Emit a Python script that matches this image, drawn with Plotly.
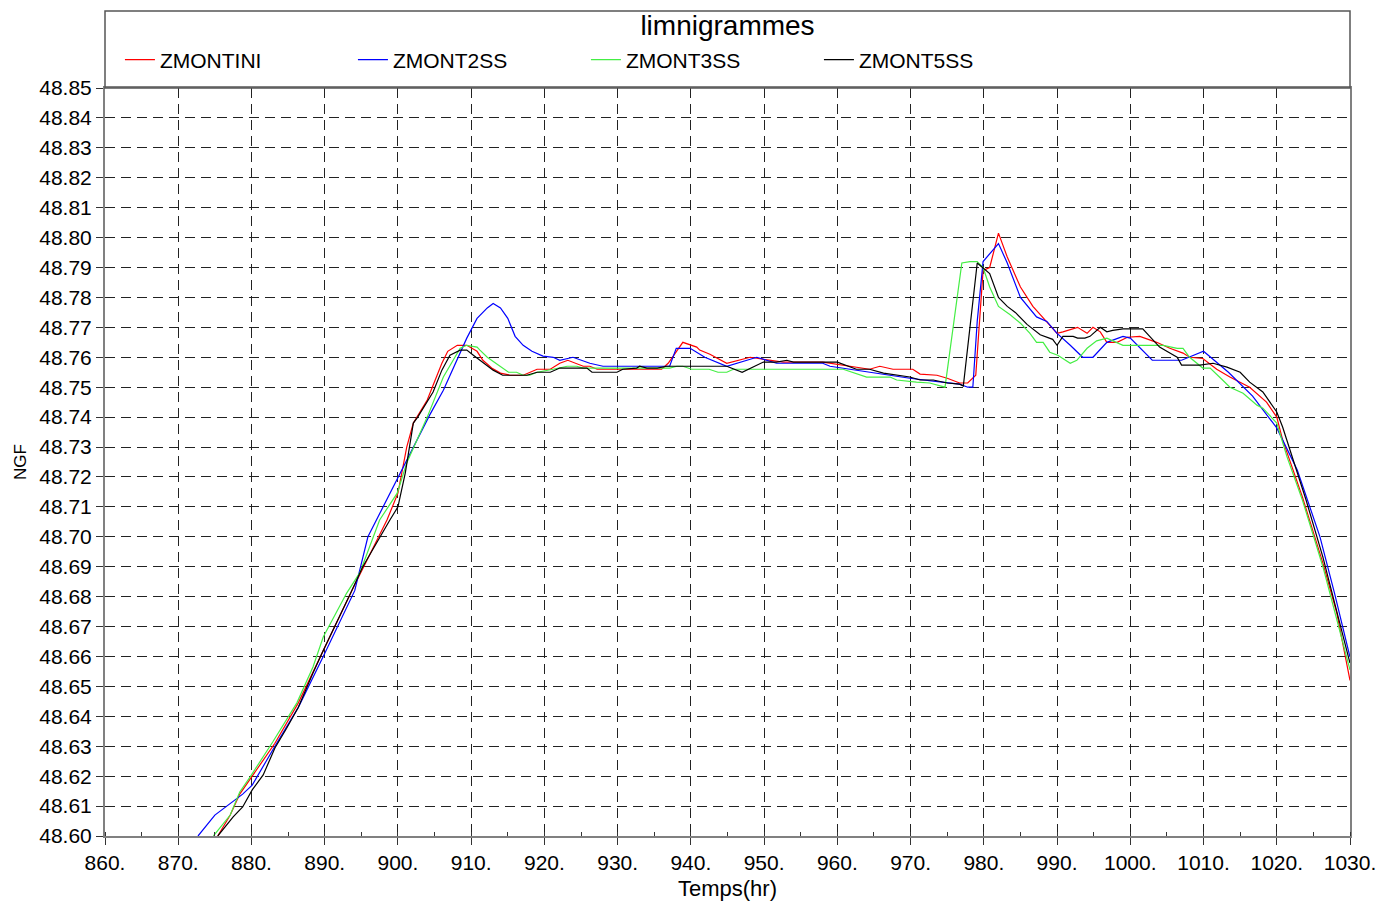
import plotly.graph_objects as go

# ---------------- data ----------------
red_t = [875.4, 877.1, 878.4, 880.1, 883.2, 886.4, 889.8, 893.7, 898.5, 900.0, 901.2, 902.1, 904.0, 906.0, 906.8,
         908.1, 909.4, 910.8, 911.6, 912.8, 914.0, 915.3, 917.1, 919.0, 920.8, 922.1, 923.2, 925.3, 926.2, 927.2,
         936.0, 936.9, 938.9, 940.8, 941.2, 942.6, 944.9, 948.1, 949.2, 952.6, 958.0, 961.7, 964.4, 965.8, 967.6,
         970.3, 971.3, 973.6, 975.0, 976.7, 977.8, 978.9, 979.9, 980.8, 982.0, 983.2, 985.0, 986.7, 988.3, 990.0,
         990.8, 992.8, 994.1, 994.9, 995.9, 996.8, 998.2, 999.6, 1001.3, 1003.6, 1005.4, 1007.2, 1008.1, 1009.9,
         1011.8, 1013.6, 1016.3, 1018.6, 1020.0, 1020.8, 1023.5, 1026.3, 1028.2, 1030.0]
red_v = [48.600, 48.607, 48.614, 48.620, 48.631, 48.6445, 48.662, 48.682, 48.7056, 48.7146, 48.730, 48.738, 48.7457,
         48.758, 48.762, 48.764, 48.764, 48.762, 48.759, 48.7564, 48.7547, 48.754, 48.754, 48.756, 48.756, 48.758,
         48.759, 48.757, 48.757, 48.756, 48.756, 48.758, 48.765, 48.7634, 48.7624, 48.761, 48.758, 48.760, 48.7596,
         48.7584, 48.7584, 48.757, 48.756, 48.757, 48.756, 48.756, 48.7544, 48.754, 48.753, 48.7514, 48.7514, 48.754,
         48.789, 48.790, 48.8015, 48.7935, 48.7835, 48.777, 48.7725, 48.768, 48.7685, 48.770, 48.768, 48.770, 48.7685,
         48.765, 48.765, 48.7667, 48.767, 48.765, 48.763, 48.7614, 48.760, 48.7596, 48.756, 48.7534, 48.750, 48.745,
         48.740, 48.7324, 48.7133, 48.6912, 48.6745, 48.652]

blue_t = [872.7, 875.0, 878.8, 880.1, 883.2, 886.4, 889.8, 894.1, 895.9, 900.3, 904.4, 906.2, 908.1, 909.4, 910.8,
          912.2, 913.0, 914.0, 915.0, 916.0, 917.1, 918.3, 919.8, 921.2, 922.1, 923.9, 926.2, 928.0, 937.1, 938.0,
          939.9, 941.9, 944.9, 949.0, 951.7, 958.0, 959.0, 961.7, 964.4, 966.8, 969.9, 973.1, 976.7, 977.8, 978.5,
          979.1, 979.9, 982.0, 983.2, 985.0, 987.2, 988.6, 990.0, 991.8, 993.5, 994.9, 996.8, 999.0, 1000.0, 1003.0,
          1007.0, 1010.0, 1013.4, 1016.7, 1020.0, 1022.8, 1025.9, 1027.9, 1030.0]
blue_v = [48.600, 48.607, 48.614, 48.617, 48.630, 48.643, 48.660, 48.682, 48.700, 48.721, 48.741, 48.749, 48.759,
          48.7664, 48.773, 48.7765, 48.778, 48.7765, 48.773, 48.767, 48.764, 48.762, 48.7604, 48.760, 48.759, 48.760,
          48.758, 48.757, 48.757, 48.763, 48.763, 48.760, 48.757, 48.760, 48.758, 48.758, 48.757, 48.756, 48.755,
          48.754, 48.753, 48.752, 48.751, 48.750, 48.750, 48.772, 48.792, 48.798, 48.7915, 48.780, 48.7735, 48.772,
          48.768, 48.764, 48.760, 48.760, 48.765, 48.767, 48.7664, 48.759, 48.759, 48.762, 48.755, 48.747, 48.7364,
          48.7223, 48.700, 48.681, 48.6598]

green_t = [874.8, 877.1, 878.4, 879.8, 882.9, 886.2, 888.4, 889.8, 893.0, 894.8, 897.5, 899.9, 901.2, 904.0, 906.2,
           908.5, 909.4, 910.8, 911.2, 912.2, 913.7, 915.1, 916.2, 917.1, 918.0, 919.0, 921.2, 923.1, 924.4, 925.3,
           937.1, 938.1, 938.9, 940.1, 942.5, 943.7, 944.9, 945.8, 960.8, 964.0, 967.2, 968.1, 970.8, 972.6, 974.7,
           977.0, 978.1, 979.1, 979.9, 980.8, 982.0, 983.6, 985.0, 986.3, 987.2, 988.1, 989.0, 990.1, 991.8, 992.7,
           994.1, 995.4, 996.8, 998.2, 999.0, 1004.5, 1006.4, 1007.2, 1008.1, 1009.9, 1010.9, 1012.6, 1013.6, 1015.4,
           1017.3, 1018.1, 1020.0, 1021.4, 1023.5, 1026.3, 1028.2, 1030.0]
green_v = [48.600, 48.607, 48.6147, 48.6197, 48.6314, 48.6445, 48.6565, 48.6665, 48.6812, 48.688, 48.7056, 48.7146,
           48.7247, 48.740, 48.7534, 48.763, 48.764, 48.7634, 48.7624, 48.760, 48.7574, 48.755, 48.755, 48.754, 48.754,
           48.755, 48.756, 48.757, 48.757, 48.7564, 48.7564, 48.757, 48.757, 48.756, 48.756, 48.755, 48.755, 48.756,
           48.756, 48.7534, 48.7534, 48.7524, 48.7517, 48.7514, 48.750, 48.7915, 48.792, 48.792, 48.790, 48.7835,
           48.777, 48.7742, 48.7714, 48.768, 48.765, 48.765, 48.7617, 48.7607, 48.758, 48.759, 48.763, 48.7655,
           48.7664, 48.765, 48.764, 48.764, 48.763, 48.763, 48.760, 48.7564, 48.7564, 48.7524, 48.750, 48.748, 48.744,
           48.743, 48.738, 48.7267, 48.7123, 48.690, 48.6722, 48.6555]

black_t = [875.4, 877.5, 878.8, 880.1, 881.6, 883.2, 884.8, 886.4, 888.4, 889.8, 893.5, 895.2, 898.9, 900.0, 901.0,
           901.6, 902.1, 902.7, 904.8, 906.0, 907.1, 908.5, 909.4, 910.3, 911.6, 913.0, 914.3, 915.7, 917.6, 919.0,
           920.8, 922.1, 925.8, 926.5, 929.9, 930.7, 932.6, 933.0, 934.0, 935.4, 936.7, 944.9, 947.0, 949.9, 951.7,
           953.1, 954.0, 960.0, 961.7, 962.6, 964.4, 966.3, 969.9, 971.3, 973.1, 975.0, 976.7, 977.2, 979.1, 979.9,
           980.8, 982.0, 983.2, 984.3, 985.9, 987.7, 989.4, 990.0, 990.8, 992.2, 992.8, 993.8, 994.5, 995.9, 996.8,
           997.6, 999.0, 1001.7, 1002.7, 1004.0, 1005.4, 1006.4, 1007.0, 1009.5, 1011.3, 1013.2, 1015.0, 1016.3,
           1018.1, 1020.0, 1020.8, 1021.8, 1024.0, 1026.3, 1028.2, 1030.0]
black_v = [48.600, 48.6064, 48.6097, 48.6154, 48.6204, 48.6294, 48.636, 48.643, 48.6545, 48.662, 48.681, 48.690,
           48.7056, 48.710, 48.7213, 48.730, 48.738, 48.740, 48.7484, 48.7557, 48.7607, 48.7624, 48.7624, 48.7607,
           48.7584, 48.7557, 48.754, 48.754, 48.754, 48.755, 48.755, 48.7564, 48.7564, 48.755, 48.755, 48.756,
           48.7564, 48.757, 48.7564, 48.7564, 48.757, 48.757, 48.755, 48.7584, 48.7584, 48.759, 48.7584, 48.7584,
           48.7567, 48.756, 48.756, 48.7547, 48.7534, 48.7524, 48.7524, 48.7514, 48.751, 48.7504, 48.7915, 48.790,
           48.788, 48.780, 48.777, 48.775, 48.771, 48.7675, 48.766, 48.764, 48.767, 48.767, 48.7664, 48.7664, 48.767,
           48.770, 48.7685, 48.769, 48.7695, 48.7695, 48.767, 48.7634, 48.7614, 48.760, 48.7574, 48.7574, 48.758,
           48.7567, 48.755, 48.7517, 48.7484, 48.7417, 48.7367, 48.729, 48.7123, 48.6932, 48.6755, 48.6578]

series_names = ["ZMONTINI", "ZMONT2SS", "ZMONT3SS", "ZMONT5SS"]
series_colors = ["#ff0000", "#0000ff", "#44ee44", "#000000"]

x_tick_vals = list(range(860, 1031, 10))
x_tick_text = [f"{v}." for v in x_tick_vals]
y_tick_vals = [round(48.60 + 0.01 * i, 2) for i in range(26)]
y_tick_text = [f"{v:.2f}" for v in y_tick_vals]

# ---------------- figure ----------------
FONT = "Liberation Sans, Arial, sans-serif"
W, H = 1379, 893          # page body has an 8px margin
L, T, PW, PH = 97, 80, 1245, 748

fig = go.Figure()
for name, color, t, v in zip(series_names, series_colors,
                             [red_t, blue_t, green_t, black_t],
                             [red_v, blue_v, green_v, black_v]):
    fig.add_trace(go.Scatter(x=t, y=v, mode="lines", name=name,
                             line=dict(color=color, width=1.2)))

grid = dict(showgrid=True, gridcolor="#222222", gridwidth=1, griddash="10px,6px")

fig.update_layout(
    width=W, height=H,
    margin=dict(l=L, r=W - L - PW, t=T, b=H - T - PH, autoexpand=False),
    paper_bgcolor="white", plot_bgcolor="white",
    font=dict(family=FONT, color="black"),
    title=dict(text="limnigrammes", x=0.5, xref="paper", xanchor="center",
               y=1 - 17 / H, yref="container", yanchor="middle",
               font=dict(size=28, family=FONT, color="black")),
    showlegend=True,
    legend=dict(orientation="h", x=0.012, xanchor="left", y=1 + 28 / PH, yanchor="middle",
                entrywidth=188, entrywidthmode="pixels",
                font=dict(size=21, family=FONT), bgcolor="rgba(0,0,0,0)",
                itemwidth=30, tracegroupgap=0),
    xaxis=dict(range=[860, 1030], tickmode="array", tickvals=x_tick_vals, ticktext=x_tick_text,
               ticks="outside", ticklen=7, tickcolor="#333", tickfont=dict(size=21),
               showline=True, linecolor="#808080", linewidth=2, mirror=True,
               minor=dict(dtick=5, tick0=860, ticks="inside", ticklen=4, tickcolor="#333", showgrid=False),
               zeroline=False, automargin=False,
               title=dict(text="Temps(hr)", font=dict(size=22), standoff=17),
               **grid),
    yaxis=dict(range=[48.60, 48.85], tickmode="array", tickvals=y_tick_vals, ticktext=y_tick_text,
               ticks="outside", ticklen=7, tickcolor="#333", tickfont=dict(size=21),
               showline=True, linecolor="#808080", linewidth=2, mirror=True,
               zeroline=False, automargin=False,
               title=dict(text="NGF", font=dict(size=17), standoff=8),
               **grid),
    shapes=[dict(type="rect", xref="paper", yref="paper", x0=0, x1=1, y0=1, y1=1 + 77 / PH,
                 line=dict(color="#555555", width=1.5), fillcolor="rgba(0,0,0,0)", layer="above")],
)

fig.write_html("out.html")
